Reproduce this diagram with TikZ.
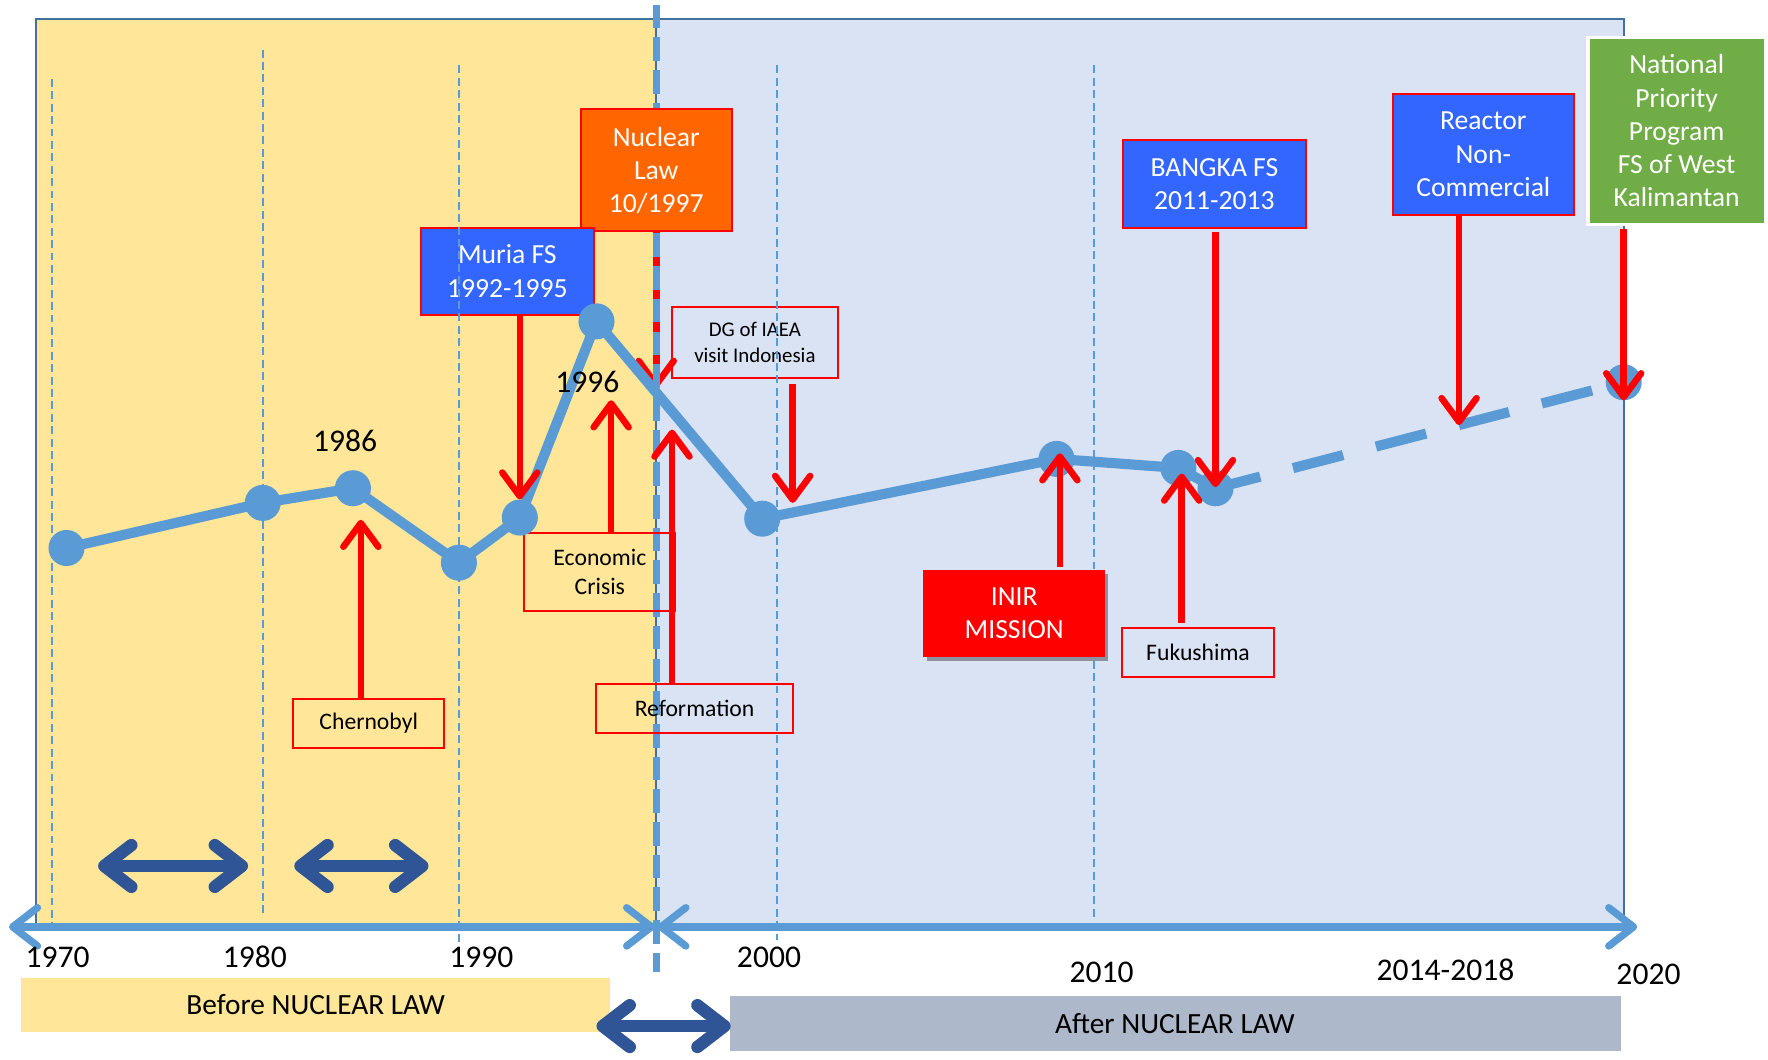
\documentclass[tikz,border=0pt]{standalone}
\usepackage{fontspec}
\setmainfont{Carlito}
\usetikzlibrary{arrows.meta,shadows}
\definecolor{ybg}{HTML}{FFE699}
\definecolor{bbg}{HTML}{DAE3F3}
\definecolor{frm}{HTML}{41719C}
\definecolor{lb}{HTML}{5B9BD5}
\definecolor{db}{HTML}{2F5597}
\definecolor{boxblue}{HTML}{3366FF}
\definecolor{boxor}{HTML}{FF6600}
\definecolor{boxgr}{HTML}{70AD47}
\definecolor{gband}{HTML}{ADB9CA}
\pgfdeclarelayer{back}
\pgfsetlayers{back,main}
\begin{document}
\begin{tikzpicture}[x=1pt,y=-1pt,
  evbox/.style={draw=red, line width=1.8pt, align=center, inner sep=0pt, font=\fontsize{21}{26}\selectfont},
  colbox/.style={draw=red, line width=1.8pt, align=center, inner sep=0pt, text=white, font=\fontsize{24.5}{29.5}\selectfont},
  redarr/.style={red, line width=5.8pt, -{Straight Barb[length=21pt,width=31pt,round]}},
  datapt/.style={circle, fill=lb, inner sep=0pt, minimum size=32pt},
  vgrid/.style={lb, line width=1.4pt, dash pattern=on 7pt off 4pt},
  yearlbl/.style={font=\fontsize{28}{32}\selectfont, inner sep=0pt},
  bandlbl/.style={font=\fontsize{26}{30}\selectfont, inner sep=0pt},
  darr/.style={db, line width=11pt, {Straight Barb[length=24pt,width=37pt,round]}-{Straight Barb[length=24pt,width=37pt,round]}},
  axarr/.style={lb, line width=6.5pt, {Straight Barb[length=22pt,width=34pt,round]}-{Straight Barb[length=22pt,width=34pt,round]}}
]
\path[use as bounding box] (0,0) rectangle (1568,940);

% bottom bands
\fill[ybg] (19,867) rectangle (541,915);
\node[bandlbl] (before) at (280,891) {Before NUCLEAR LAW};
\fill[gband] (647,883) rectangle (1438,932);
\node[bandlbl] (after) at (1042,908) {After NUCLEAR LAW};

% coordinates
\coordinate (p1) at (59,486);
\coordinate (p2) at (233,446);
\coordinate (p3) at (313,433);
\coordinate (p4) at (407,499);
\coordinate (p5) at (461,459);
\coordinate (p6) at (529,285);
\coordinate (p8) at (676,460);
\coordinate (p9) at (937,407);
\coordinate (p10) at (1045,415);
\coordinate (p11) at (1078,433);
\coordinate (p12) at (1440,339);

% Nuclear law box
\node[colbox, fill=boxor, minimum width=134pt, minimum height=108pt] (nuc) at (582,151) {Nuclear\\Law\\10/1997};
\coordinate (tNuc) at (582,344);

\begin{pgfonlayer}{back}
% backgrounds
\fill[ybg] (32,17) rectangle (582,822);
\fill[bbg] (582,17) rectangle (1440,822);
\draw[frm, line width=2pt] (32,822) -- (32,17) -- (1440,17) -- (1440,822);
\draw[frm, line width=1.5pt] (582,17) -- (582,822);
% nuclear law arrow under the divider
\draw[redarr] (nuc.south) -- (tNuc);
% divider
\draw[lb, line width=6.5pt, dash pattern=on 21pt off 8pt] (582,4) -- (582,862);
\end{pgfonlayer}

% event boxes
\node[colbox, fill=boxblue, minimum width=154pt, minimum height=77pt] (muria) at (450,240.5) {Muria FS\\1992-1995};
\node[evbox, font=\fontsize{18.5}{23}\selectfont, minimum width=147pt, minimum height=63pt] (dg) at (669.5,303.5) {DG of IAEA\\visit Indonesia};
\node[evbox, minimum width=134pt, minimum height=69pt] (eco) at (532,507.5) {Economic\\Crisis};
\node[evbox, minimum width=174pt, minimum height=43pt] (ref) at (616,628.5) {Reformation};
\node[evbox, minimum width=134pt, minimum height=43pt] (cher) at (327,641.5) {Chernobyl};
\node[evbox, minimum width=135pt, minimum height=43pt] (fuku) at (1062.5,578.5) {Fukushima};
\node[colbox, fill=boxblue, minimum width=162pt, minimum height=78pt] (bangka) at (1077,163) {BANGKA FS\\2011-2013};
\node[colbox, fill=boxblue, minimum width=161pt, minimum height=108pt] (reac) at (1315.5,137) {Reactor\\Non-\\Commercial};
\node[colbox, fill=boxgr, draw=white, line width=3pt, minimum width=157pt, minimum height=166pt] (nat) at (1487,116) {National\\Priority\\Program\\FS of West\\Kalimantan};

% grid lines
\draw[vgrid] (46,70) -- (46,822);
\draw[vgrid] (233,44) -- (233,813);
\draw[vgrid] (407,58) -- (407,836);
\draw[vgrid] (689,58) -- (689,834);
\draw[vgrid] (970,58) -- (970,814);

\node[colbox, draw=none, fill=red, minimum width=161pt, minimum height=77pt,
  drop shadow={opacity=0.35, shadow xshift=3pt, shadow yshift=-4pt, fill=black}] (inir) at (899.5,544) {INIR\\MISSION};

% axis
\coordinate (axL) at (8,822);
\coordinate (axM1) at (581,822);
\coordinate (axM2) at (583,822);
\coordinate (axR) at (1452,822);
\draw[axarr] (axL) -- (axM1);
\draw[axarr] (axM2) -- (axR);

% data line
\draw[lb, line width=9pt, line join=round] (p1) -- (p2) -- (p3) -- (p4) -- (p5) -- (p6) -- (p8) -- (p9) -- (p10) -- (p11);
\draw[lb, line width=9pt, dash pattern=on 46pt off 30pt, dash phase=5pt] (p11) -- (p12);
\foreach \p in {p1,p2,p3,p4,p5,p6,p8,p9,p10,p11,p12}
  \node[datapt] (m\p) at (\p) {};

\node[yearlbl] (y1986) at (306,391) {1986};
\node[yearlbl] (y1996) at (521,339) {1996};

% red arrows
\coordinate (tMuria) at (461,443);
\coordinate (tDG) at (703,446);
\coordinate (tEco) at (542,355);
\coordinate (tRef) at (596,381);
\coordinate (tCher) at (320,461);
\coordinate (tInir) at (940,402);
\coordinate (tFuku) at (1048,420);
\coordinate (tBangka) at (1078,432);
\coordinate (tReac) at (1294,377);
\coordinate (tNat) at (1440,355);
\draw[redarr] (muria.south -| tMuria) -- (tMuria);
\draw[redarr] ([yshift=-5pt]dg.south -| tDG) -- (tDG);
\draw[redarr] (eco.north -| tEco) -- (tEco);
\draw[redarr] (ref.north -| tRef) -- (tRef);
\draw[redarr] (cher.north -| tCher) -- (tCher);
\draw[redarr] ([yshift=2pt]inir.north -| tInir) -- (tInir);
\draw[redarr] ([yshift=4pt]fuku.north -| tFuku) -- (tFuku);
\draw[redarr] ([yshift=-3pt]bangka.south -| tBangka) -- (tBangka);
\draw[redarr] (reac.south -| tReac) -- (tReac);
\draw[redarr] ([yshift=-3pt]nat.south -| tNat) -- (tNat);

% dark blue double arrows
\coordinate (d1a) at (87,768); \coordinate (d1b) at (220,768);
\coordinate (d2a) at (261,768); \coordinate (d2b) at (380,768);
\coordinate (d3a) at (529,910); \coordinate (d3b) at (648,910);
\draw[darr] (d1a) -- (d1b);
\draw[darr] (d2a) -- (d2b);
\draw[darr] (d3a) -- (d3b);

% year labels
\node[yearlbl] (y1970) at (51,849) {1970};
\node[yearlbl] (y1980) at (226,849) {1980};
\node[yearlbl] (y1990) at (427,849) {1990};
\node[yearlbl] (y2000) at (682,849) {2000};
\node[yearlbl] (y2010) at (977,862) {2010};
\node[yearlbl] (y2014) at (1282,860) {2014-2018};
\node[yearlbl] (y2020) at (1462,864) {2020};
\end{tikzpicture}
\end{document}
